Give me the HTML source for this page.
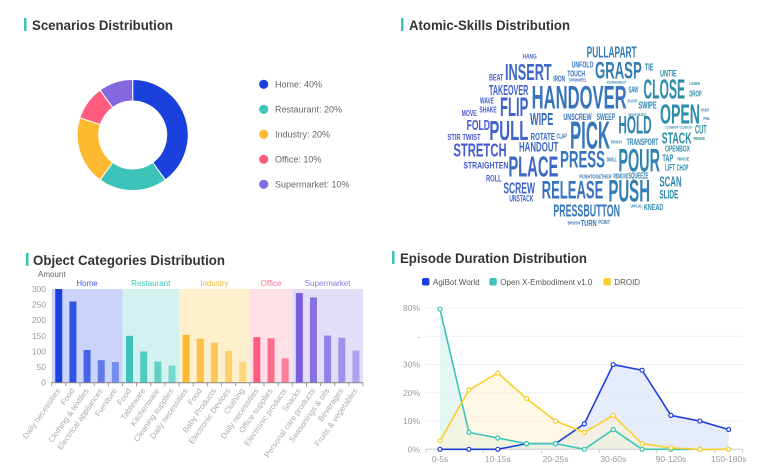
<!DOCTYPE html>
<html><head><meta charset="utf-8"><style>
html,body{margin:0;padding:0;background:#fff;}
svg{display:block;font-family:"Liberation Sans",sans-serif;}
</style></head><body>
<svg id="root" width="769" height="476" viewBox="0 0 769 476" xmlns="http://www.w3.org/2000/svg">
<!-- titles -->
<g>
<rect x="24" y="18" width="2.5" height="13" fill="#3cc4b8"/>
<text x="32" y="30" font-size="13.5" font-weight="bold" fill="#333" textLength="141" lengthAdjust="spacingAndGlyphs">Scenarios Distribution</text>
</g>
<g>
<rect x="401" y="18" width="2.5" height="13" fill="#3cc4b8"/>
<text x="409" y="30" font-size="13.5" font-weight="bold" fill="#333" textLength="161" lengthAdjust="spacingAndGlyphs">Atomic-Skills Distribution</text>
</g>
<g>
<rect x="26" y="253" width="2.5" height="13" fill="#3cc4b8"/>
<text x="33" y="265" font-size="13.5" font-weight="bold" fill="#333" textLength="192" lengthAdjust="spacingAndGlyphs">Object Categories Distribution</text>
</g>
<g>
<rect x="392" y="251" width="2.5" height="13" fill="#3cc4b8"/>
<text x="400" y="263" font-size="13.5" font-weight="bold" fill="#333" textLength="187" lengthAdjust="spacingAndGlyphs">Episode Duration Distribution</text>
</g>
<g id="donut"></g>
<g id="donutLegend"></g>
<g id="cloud"></g>
<g id="bars"></g>
<g id="lines"></g>
</svg>
<script>
const NS="http://www.w3.org/2000/svg";
function mk(tag,attrs,parent){const e=document.createElementNS(NS,tag);for(const k in attrs)e.setAttribute(k,attrs[k]);parent.appendChild(e);return e;}

// ---------- Donut ----------
const scenarioNames=["Home","Restaurant","Industry","Office","Supermarket"];
const scenarioValues=[40,20,20,10,10];
const scenarioColors=["#1a40dd","#3cc4b8","#fdb92f","#fd5c7e","#8468e0"];
(function(){
  const g=document.getElementById('donut');
  const cx=132.7,cy=135,R=55.5,r=34;
  const tot=scenarioValues.reduce((a,b)=>a+b,0);
  let a0=-Math.PI/2;
  scenarioValues.forEach((v,i)=>{
    const a1=a0+v/tot*2*Math.PI;const lg=(a1-a0)>Math.PI?1:0;
    const p=`M${cx+R*Math.cos(a0)},${cy+R*Math.sin(a0)} A${R},${R} 0 ${lg} 1 ${cx+R*Math.cos(a1)},${cy+R*Math.sin(a1)} L${cx+r*Math.cos(a1)},${cy+r*Math.sin(a1)} A${r},${r} 0 ${lg} 0 ${cx+r*Math.cos(a0)},${cy+r*Math.sin(a0)} Z`;
    const s=mk('path',{d:p,fill:scenarioColors[i],stroke:'#fff','stroke-width':1},g);
    
    
    a0=a1;
  });
  const lg=document.getElementById('donutLegend');
  scenarioNames.forEach((n,i)=>{
    const y=84.3+i*25;
    const it=mk('g',{},lg);
    
    
    mk('circle',{cx:263.7,cy:y,r:4.6,fill:scenarioColors[i]},it);
    mk('text',{x:275,y:y+3.2,'font-size':9,fill:'#666'},it).textContent=n+': '+scenarioValues[i]+'%';
  });
})();

// ---------- Word cloud ----------
const words=[["HANG",308,85,350,14],["INSERT",255,150,395,50],["GRASP",525,145,665,52],["PULLAPART",500,82,650,35],["UNFOLD",455,112,520,18],["TOUCH",442,140,495,17],["TIE",675,122,700,22],["UNTIE",720,140,770,20],["BEAT",207,152,250,20],["IRON",400,155,435,18],["TURNWHEEL",445,155,500,9],["HOLDANDOBJECT",560,160,620,8],["TAKEOVER",207,195,325,33],["HANDOVER",335,235,620,70],["CLOSE",670,205,795,60],["DROP",808,200,845,18],["LOWER",808,165,840,9],["WAVE",180,220,222,17],["FLIP",240,258,325,58],["SAW",625,188,655,18],["SCOOP",622,218,652,9],["SWIPE",655,235,710,22],["OPEN",720,280,840,60],["PAINT",843,245,868,9],["PEEL",850,270,870,9],["SHAKE",178,248,230,17],["MOVE",125,258,170,18],["WIPE",330,285,400,38],["UNSCREW",430,270,515,20],["SWEEP",530,270,585,20],["SETUPOBJECT",625,258,680,8],["HOLD",595,310,695,55],["FOLD",140,300,210,33],["PULL",208,330,325,60],["PICK",450,355,570,85],["CUT",825,310,860,25],["CLOSEBOX",735,295,775,8],["CLOSELID",778,295,815,8],["RINSE",820,330,855,9],["STIR TWIST",82,330,182,18],["ROTATE",332,330,405,22],["CLAP",410,325,440,15],["STACK",725,340,815,35],["TRANSPORT",620,345,715,20],["PINCH",573,340,605,10],["STRETCH",100,380,260,40],["HANDOUT",297,365,415,30],["OPENBOX",735,365,810,18],["PLACE",265,440,415,62],["PRESS",420,412,555,52],["POUR",595,425,720,70],["DRILL",560,395,590,12],["TAP",727,395,760,22],["RINSE",772,392,808,10],["LIFT",735,422,765,20],["CHOP",770,422,805,17],["STRAIGHTEN",130,415,265,20],["ROLL",198,455,245,20],["SCREW",250,490,345,35],["RELEASE",365,505,550,55],["PUSH",565,515,690,68],["SCAN",718,470,785,33],["SLIDE",718,505,775,27],["REMOVE",580,445,625,15],["SQUEEZE",625,445,685,17],["PUSHTOGETHER",478,445,575,12],["UNSTACK",268,515,340,20],["PRESSBUTTON",400,560,600,38],["KNEAD",672,540,730,17],["UNPLUG",632,532,665,9],["TURN",482,588,530,17],["BRUSH",443,584,480,10],["POINT",535,582,570,12]];
(function(){
  const g=document.getElementById('cloud');
  function col(x){const t=Math.min(1,Math.max(0,(x-80)/790));
    const c0=[72,82,214],c1=[40,150,165];
    return `rgb(${Math.round(c0[0]+(c1[0]-c0[0])*t)},${Math.round(c0[1]+(c1[1]-c0[1])*t)},${Math.round(c0[2]+(c1[2]-c0[2])*t)})`;}
  words.forEach(w=>{
    const x=420+w[1]/3,y=30+w[2]/3,wd=(w[3]-w[1])/3,fs=w[4]/3*1.38;
    const t=mk('text',{x:x,y:y,'font-size':fs.toFixed(2),'font-weight':'bold',fill:col((w[1]+w[3])/2),textLength:wd.toFixed(1),lengthAdjust:'spacingAndGlyphs'},g);
    
    
    t.textContent=w[0];
  });
})();

// ---------- Bar chart ----------
const groupNames=["Home","Restaurant","Industry","Office","Supermarket"];
const groupSizes=[5,4,5,3,5];
const barCategories=["Daily necessities","Food","Clothing & textiles","Electrical appliances","Furniture","Food","Tableware","Kitchenware","Cleaning supplies","Daily necessities","Food","Baby Products","Electronic Devices","Clothing","Daily necessities","Office supplies","Electronic products","Snacks","Personal care products","Seasonings & oils","Beverages","Fruits & vegetables"];
const barValues=[300,260,105,72,66,150,100,68,55,153,141,128,102,66,146,142,78,287,273,151,144,103];
const barYTicks=[0,50,100,150,200,250,300];
(function(){
  const g=document.getElementById('bars');
  const gColors=["#1a40dd","#3cc4b8","#fdb92f","#fd5c7e","#7a5fe0"];
  const bandColors=["#cbd3f8","#d3f2ef","#fef0cc","#fee0e7","#e3def7"];
  const labColors=["#3b55e6","#3cc4b8","#f5b829","#ff6f8f","#8a75e0"];
  const x0=51.7,x1=363,y0=382.7,yTop=289,vmax=300;
  const n=barCategories.length,bw=(x1-x0)/n;
  const X=i=>x0+(i+0.5)*bw, Y=v=>y0-(v/vmax)*(y0-yTop);
  mk('text',{x:38,y:277,'font-size':8,fill:'#666'},g).textContent='Amount';
  let idx=0;
  groupSizes.forEach((s,gi)=>{
    const b=mk('rect',{x:x0+idx*bw,y:yTop,width:s*bw,height:y0-yTop,fill:bandColors[gi]},g);
    
    
    const l=mk('text',{x:x0+(idx+s/2)*bw,y:286,'font-size':8,fill:labColors[gi],'text-anchor':'middle'},g);
    
    
    l.textContent=groupNames[gi];
    for(let k=0;k<s;k++){
      const i=idx+k;const op=1-k*0.13;
      const r=mk('rect',{x:X(i)-3.5,y:Y(barValues[i]),width:7,height:y0-Y(barValues[i]),fill:gColors[gi],'fill-opacity':op},g);
      
      
    }
    idx+=s;
  });
  barYTicks.forEach(t=>{
    mk('text',{x:46,y:Y(t)+3,'font-size':8.5,fill:'#999','text-anchor':'end'},g).textContent=t;
  });
  mk('line',{x1:x0,x2:x1,y1:y0,y2:y0,stroke:'#888','stroke-width':1},g);
  for(let i=0;i<=n;i++) mk('line',{x1:x0+i*bw,x2:x0+i*bw,y1:y0,y2:y0+3.5,stroke:'#888','stroke-width':0.8},g);
  barCategories.forEach((c,i)=>{
    const t=mk('text',{x:X(i)+2,y:y0+8,'font-size':8,fill:'#aaa','text-anchor':'end',transform:`rotate(-55 ${X(i)+2} ${y0+8})`},g);
    
    
    t.textContent=c;
  });
})();

// ---------- Line chart ----------
const durCategories=["0-5s","5-10s","10-15s","15-20s","20-25s","25-30s","30-60s","60-90s","90-120s","120-150s","150-180s"];
const durLabels=["0-5s","10-15s","20-25s","30-60s","90-120s","150-180s"];
const agibot=[0,0,0,2,2,9,30,28,12,10,7];
const oxe=[79,6,4,2,2,0,7,0,0,0,0];
const droid=[3,21,27,18,10,6,12,2,0.5,0,0];
const durYTicks=["0%","10%","20%","30%","-","80%"];
(function(){
  const g=document.getElementById('lines');
  const xl=426,xr=743,y0=449.3,step=28.25;
  const xa=440,xb=728.7;
  const X=i=>xa+i*(xb-xa)/(durCategories.length-1);
  const Y=v=>v<=30? y0-v/10*step : y0-(3+(v-30)/25)*step;
  durYTicks.forEach((t,i)=>{
    const y=y0-i*step;
    if(i>0) mk('line',{x1:xl,x2:xr,y1:y,y2:y,stroke:'#eef0f4','stroke-width':1},g);
    mk('text',{x:420,y:y+3,'font-size':8.5,fill:'#999','text-anchor':'end'},g).textContent=t;
  });
  const series=[["agibot-world",agibot,"#1e3fd8","#dfe5fb",0.75],["open-x-embodiment",oxe,"#3cc4b8","#d3f2ef",0.6],["droid",droid,"#f8cf2c","#fdf3d0",0.55]];
  series.forEach(s=>{
    const pts=s[1].map((v,i)=>[X(i),Y(v)]);
    const area=mk('path',{d:'M'+pts.map(p=>p.join(',')).join(' L')+` L${X(s[1].length-1)},${y0} L${X(0)},${y0} Z`,fill:s[3],'fill-opacity':s[4]},g);
    
    
  });
  mk('line',{x1:xl,x2:xr,y1:y0,y2:y0,stroke:'#ccc','stroke-width':1},g);
  for(let k=0;k<=6;k++){const x=xl+k*(xr-xl)/6+ (k==0?0:0);}
  [426,483.3,541.7,599.3,656.7,715,742.7].forEach(x=>mk('line',{x1:x,x2:x,y1:y0,y2:y0+3.5,stroke:'#ccc','stroke-width':1},g));
  series.forEach(s=>{
    const pts=s[1].map((v,i)=>[X(i),Y(v)]);
    const l=mk('polyline',{points:pts.map(p=>p.join(',')).join(' '),fill:'none',stroke:s[2],'stroke-width':1.6},g);
    
    
    pts.forEach((p,i)=>{
      const c=mk('circle',{cx:p[0],cy:p[1],r:2,fill:'#fff',stroke:s[2],'stroke-width':1.2},g);
      
      
    });
  });
  durCategories.forEach((c,i)=>{
    if(durLabels.indexOf(c)<0) return;
    mk('text',{x:X(i),y:462,'font-size':8.5,fill:'#999','text-anchor':'middle'},g).textContent=c;
  });
  const leg=[["AgiBot World",426,"#1e3fd8"],["Open X-Embodiment v1.0",493.3,"#3cc4b8"],["DROID",607.3,"#f8cf2c"]];
  leg.forEach(L=>{
    const e=mk('g',{},g);
    
    
    mk('rect',{x:L[1]-4,y:278,width:7.5,height:7.5,rx:2,fill:L[2]},e);
    mk('text',{x:L[1]+7,y:285,'font-size':8,fill:'#555'},e).textContent=L[0];
  });
})();
</script>
</body></html>
